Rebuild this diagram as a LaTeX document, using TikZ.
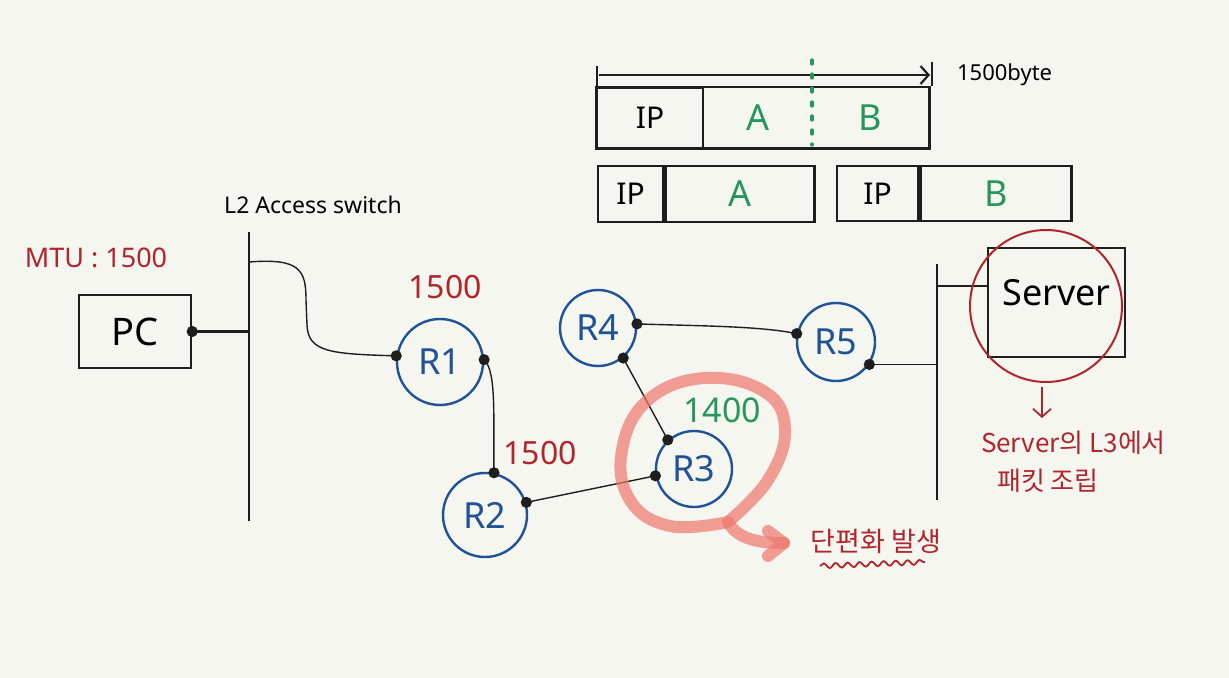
\documentclass[tikz,border=0pt]{standalone}
\usepackage{fontspec}
\setmainfont{Noto Sans}
\newfontfamily\kr{Noto Sans CJK KR}
\usetikzlibrary{arrows.meta,decorations.pathmorphing,calc}
\definecolor{bg}{RGB}{246,246,241}
\definecolor{rblue}{RGB}{32,82,150}
\definecolor{mred}{RGB}{176,36,42}
\definecolor{mgreen}{RGB}{38,150,92}
\definecolor{mpink}{RGB}{240,118,108}
\definecolor{ink}{RGB}{30,30,30}
\begin{document}
\begin{tikzpicture}[x=0.5pt,y=-0.5pt,
  router/.style={circle, draw=rblue, line width=1.2pt, inner sep=0pt, text=rblue, font=\fontsize{18}{18}\selectfont},
  boxed/.style={draw=ink, line width=1.2pt, inner sep=0pt},
  cell/.style={inner sep=0pt, draw=ink, line width=1.2pt},
  blank/.style={inner sep=0pt},
  wire/.style={line width=0.7pt, ink},
  bus/.style={line width=1.3pt, ink},
  port/.style={fill=ink},
  redlbl/.style={text=mred, font=\fontsize{16}{16}\selectfont},
  grnlbl/.style={text=mgreen, font=\fontsize{18}{18}\selectfont},
  iplbl/.style={font=\fontsize{15}{15}\selectfont},
  krlbl/.style={text=mred, font=\kr\fontsize{13}{16}\selectfont, align=left},
  hilite/.style={mpink, opacity=0.7, line width=6pt, line cap=round, line join=round}
]
\fill[bg] (0,0) rectangle (1229,678);
\useasboundingbox (0,0) rectangle (1229,678);

% ---------- top packet diagram ----------
\coordinate (tl) at (597,66);
\coordinate (tlb) at (597,90);
\coordinate (tr) at (932,62);
\coordinate (trb) at (932,86);
\coordinate (al) at (599,75);
\coordinate (ar) at (930,75);
\draw[line width=1pt, ink] (tl) -- (tlb);
\draw[line width=1pt, ink] (tr) -- (trb);
\draw[line width=1.1pt, ink, -{Straight Barb[length=4pt,width=9pt,line width=1.1pt]}] (al) -- (ar);
\node[font=\fontsize{11}{11}\selectfont, anchor=west] (bytes) at (950,75) {1500byte};

\node[cell, minimum width=53pt, minimum height=30pt, iplbl] (ip1) at (650,118) {IP};
\node[blank, minimum width=54.5pt, minimum height=30pt, grnlbl] (a1) at (757.5,118) {A};
\node[blank, minimum width=58.5pt, minimum height=30pt, grnlbl] (b1) at (870.5,118) {B};
\draw[line width=1.2pt, ink] (ip1.north west) rectangle (b1.south east);
\coordinate (cut1) at (812,60);
\coordinate (cut2) at (812,145);
\draw[mgreen, line width=1.6pt, dash pattern=on 2pt off 5pt, line cap=round] (cut1) -- (cut2);

\node[cell, minimum width=32.5pt, minimum height=28pt, iplbl] (ip2) at (630.5,194) {IP};
\node[cell, minimum width=74.5pt, minimum height=28pt, grnlbl, anchor=west] (a2) at (ip2.east) {A};
\node[cell, minimum width=40.5pt, minimum height=27.5pt, iplbl] (ip3) at (877.5,193.5) {IP};
\node[cell, minimum width=75.5pt, minimum height=27.5pt, grnlbl, anchor=west] (b3) at (ip3.east) {B};

% ---------- left side ----------
\node[redlbl, font=\fontsize{13.5}{13.5}\selectfont] (mtu) at (96,258) {MTU : 1500};
\node[boxed, minimum width=56pt, minimum height=36.5pt, font=\fontsize{19}{19}\selectfont] (PC) at (135,331.5) {PC};
\coordinate (sw1t) at (249,232);
\coordinate (sw1b) at (249,521);
\draw[bus] (sw1t) -- (sw1b);
\node[font=\fontsize{11.5}{11.5}\selectfont] (l2) at (313,205) {L2 Access switch};
\coordinate (sw1a) at (249,262);

% routers
\node[router, minimum size=43pt] (R1) at (440,362) {R1};
\node[router, minimum size=42pt] (R2) at (485,515) {R2};
\node[router, minimum size=38pt] (R3) at (694,469) {R3};
\node[router, minimum size=38pt] (R4) at (598,328) {R4};
\node[router, minimum size=39pt] (R5) at (836,342) {R5};

\node[redlbl] (m1) at (445,287) {1500};
\node[redlbl] (m2) at (540,453) {1500};
\node[grnlbl, font=\fontsize{17}{17}\selectfont] (m3) at (722,410) {1400};

% server side
\coordinate (sw2t) at (937,264);
\coordinate (sw2b) at (937,500);
\draw[bus] (sw2t) -- (sw2b);
\node[boxed, minimum width=68.5pt, minimum height=54.5pt, font=\fontsize{18}{18}\selectfont, text depth=10pt] (srv) at (1056.5,302.5) {Server};
\coordinate (sw2s) at (937,286);
\draw[bus, line width=1.1pt] (sw2s) -- (sw2s -| srv.west);
\node[circle, draw=mred, line width=1pt, minimum size=76pt, inner sep=0pt] (ring) at (1046,306) {};
\coordinate (dn1) at (1042,387);
\coordinate (dn2) at (1042,418);
\draw[mred, line width=0.9pt, -{Straight Barb[length=4pt,width=9pt,line width=0.9pt]}] (dn1) -- (dn2);
\node[krlbl, anchor=west] (reasm1) at (974,443) {Server의 L3에서};
\node[krlbl, anchor=west] (reasm2) at (990,481) {패킷 조립};

% ---------- connectors ----------
\draw[bus, line width=1.1pt] (PC.east) -- (PC.east -| sw1t);
\fill[port] (PC.east) circle (2.8pt);

\draw[wire] (sw1a) .. controls (300,258) and (306,270) .. (306,300)
  -- (307,325) .. controls (308,352) and (330,354) .. (R1.172);
\fill[port] (R1.172) circle (2.8pt);

\draw[wire] (R1.3) .. controls (497,372) and (493,420) .. (R2.78);
\fill[port] (R1.3) circle (2.8pt);
\fill[port] (R2.78) circle (2.8pt);

\draw[wire] (R2.17) -- (R3.190);
\fill[port] (R2.17) circle (2.8pt);
\fill[port] (R3.190) circle (2.8pt);

\draw[wire] (R4.310) -- (R3.132);
\fill[port] (R4.310) circle (2.8pt);
\fill[port] (R3.132) circle (2.8pt);

\draw[wire] (R4.6) .. controls (700,326) and (760,326) .. (R5.168);
\fill[port] (R4.6) circle (2.8pt);
\fill[port] (R5.168) circle (2.8pt);

\draw[wire] (R5.-34) -- (R5.-34 -| sw2t);
\fill[port] (R5.-34) circle (2.8pt);

% ---------- fragmentation highlight ----------
\coordinate (hl0) at (728,522);
\coordinate (hl1) at (784,543);
\coordinate (hb1) at (768,531);
\coordinate (hb2) at (768,556);
\draw[hilite]
  plot[smooth, tension=0.7] coordinates {(728,522) (670,526) (630,500) (622,450) (648,400) (705,378) (765,392) (785,430) (768,480) (728,522)};
\draw[hilite] (hl0) .. controls (738,540) and (760,543) .. (hl1);
\draw[hilite] (hb1) -- (hl1) -- (hb2);
\node[krlbl, font=\kr\fontsize{13.5}{13.5}\selectfont] (frag) at (876,541) {단편화 발생};
\coordinate (w1) at (820,566);
\coordinate (w2) at (925,562);
\draw[mred, line width=0.9pt, decorate, decoration={snake, amplitude=1.2pt, segment length=6pt}] (w1) -- (w2);
\end{tikzpicture}
\end{document}
